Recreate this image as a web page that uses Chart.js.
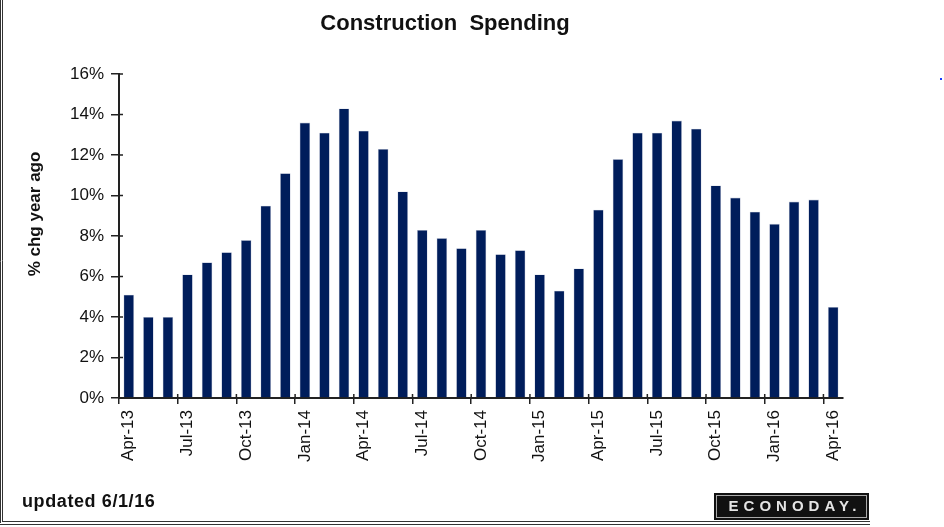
<!DOCTYPE html>
<html>
<head>
<meta charset="utf-8">
<script src="https://cdn.jsdelivr.net/npm/chart.js@4"></script>
<style>
  html, body { margin: 0; padding: 0; background: #fff; }
  #wrap { width: 944px; height: 527px; position: relative; }
</style>
</head>
<body>
<div id="wrap"><canvas id="chart" width="944" height="527"></canvas></div>
<script>
const months = ["Apr-13","May-13","Jun-13","Jul-13","Aug-13","Sep-13","Oct-13","Nov-13","Dec-13",
  "Jan-14","Feb-14","Mar-14","Apr-14","May-14","Jun-14","Jul-14","Aug-14","Sep-14","Oct-14","Nov-14","Dec-14",
  "Jan-15","Feb-15","Mar-15","Apr-15","May-15","Jun-15","Jul-15","Aug-15","Sep-15","Oct-15","Nov-15","Dec-15",
  "Jan-16","Feb-16","Mar-16","Apr-16"];
const yoyChange = [5.1, 4.0, 4.0, 6.1, 6.7, 7.2, 7.8, 9.5, 11.1,
  13.6, 13.1, 14.3, 13.2, 12.3, 10.2, 8.3, 7.9, 7.4, 8.3, 7.1, 7.3,
  6.1, 5.3, 6.4, 9.3, 11.8, 13.1, 13.1, 13.7, 13.3, 10.5, 9.9, 9.2,
  8.6, 9.7, 9.8, 4.5];
const yTicks = [0, 2, 4, 6, 8, 10, 12, 14, 16];

const barColor = "#001d5b";
const axisColor = "#222";
const fontFam = "'Liberation Sans', Arial, sans-serif";

// frame, title, y title, footer and logo
const decor = {
  id: "decor",
  beforeDraw(chart) {
    const c = chart.ctx;
    c.save();
    c.fillStyle = "#fff";
    c.fillRect(0, 0, chart.width, chart.height);
    c.restore();
  },
  afterDraw(chart) {
    const c = chart.ctx;
    const x = chart.scales.x, y = chart.scales.y;
    c.save();

    // short tick stubs crossing the axes, like the original
    c.strokeStyle = axisColor;
    c.lineWidth = 1.5;
    c.beginPath();
    yTicks.forEach(v => {
      const py = y.getPixelForValue(v);
      c.moveTo(x.left, py); c.lineTo(x.left + 4, py);
    });
    months.forEach((m, i) => {
      if (i % 3) return;
      const px = (x.getPixelForValue(i) + x.getPixelForValue(Math.max(i - 1, 0))) / 2;
      const edge = i === 0 ? x.left : px;
      c.moveTo(edge, y.bottom); c.lineTo(edge, y.bottom - 4);
    });
    c.stroke();

    // frame
    c.strokeStyle = "#333";
    c.lineWidth = 1;
    c.beginPath();
    c.moveTo(0.5, 0); c.lineTo(0.5, 523);
    c.moveTo(2.5, 0); c.lineTo(2.5, 521);
    c.moveTo(0, 524.5); c.lineTo(870, 524.5);
    c.moveTo(2, 521.5); c.lineTo(870, 521.5);
    c.stroke();

    // stray blue mark at right
    c.fillStyle = "#1a3cff";
    c.fillRect(940, 78, 2, 2);

    // title
    c.fillStyle = "#111";
    c.textAlign = "center";
    c.textBaseline = "middle";
    c.font = "bold 22px " + fontFam;
    c.fillText("Construction  Spending", 445, 24);

    // y axis title
    c.save();
    c.translate(35, 214);
    c.rotate(-Math.PI / 2);
    c.font = "bold 17px " + fontFam;
    c.fillText("% chg year ago", 0, 0);
    c.restore();

    // footer
    c.textAlign = "left";
    c.font = "bold 18px " + fontFam;
    c.letterSpacing = "0.6px";
    c.fillText("updated 6/1/16", 22, 502);
    c.letterSpacing = "0px";

    // logo
    c.fillStyle = "#111";
    c.fillRect(714, 493, 155, 27);
    c.strokeStyle = "#aaa";
    c.lineWidth = 1;
    c.strokeRect(716.5, 495.5, 150, 22);
    c.fillStyle = "#e4e4e4";
    c.textAlign = "center";
    c.font = "bold 15px " + fontFam;
    c.letterSpacing = "5px";
    c.fillText("ECONODAY.", 795, 507);
    c.restore();
  }
};

new Chart(document.getElementById("chart"), {
  type: "bar",
  data: {
    labels: months,
    datasets: [{
      data: yoyChange,
      backgroundColor: barColor,
      borderColor: "rgba(150,160,190,0.6)",
      borderWidth: 0.6,
      barPercentage: 0.54,
      categoryPercentage: 1
    }]
  },
  options: {
    responsive: false,
    animation: false,
    layout: { padding: { left: 0, right: 101, top: 74, bottom: 0 } },
    plugins: { legend: { display: false }, tooltip: { enabled: false }, title: { display: false } },
    scales: {
      x: {
        offset: true,
        grid: {
          offset: true,
          drawOnChartArea: false,
          tickLength: 6,
          lineWidth: 1.5,
          color: ctx => (ctx.index % 3 === 0 ? axisColor : "rgba(0,0,0,0)")
        },
        border: { color: axisColor, width: 2 },
        ticks: {
          autoSkip: false,
          maxRotation: 90,
          minRotation: 90,
          padding: 6,
          color: "#111",
          font: { family: fontFam, size: 17 },
          callback: function (v, i) { return i % 3 === 0 ? months[i] : ""; }
        },
        afterFit(scale) { scale.height = 129; }
      },
      y: {
        min: 0,
        max: 16,
        afterBuildTicks(scale) { scale.ticks = yTicks.map(v => ({ value: v })); },
        grid: { drawOnChartArea: false, tickLength: 8, lineWidth: 1.5, color: axisColor },
        border: { color: axisColor, width: 2 },
        ticks: {
          padding: 7,
          color: "#111",
          font: { family: fontFam, size: 17 },
          callback: v => v + "%"
        },
        afterFit(scale) { scale.width = 119; }
      }
    }
  },
  plugins: [decor]
});
</script>
</body>
</html>
